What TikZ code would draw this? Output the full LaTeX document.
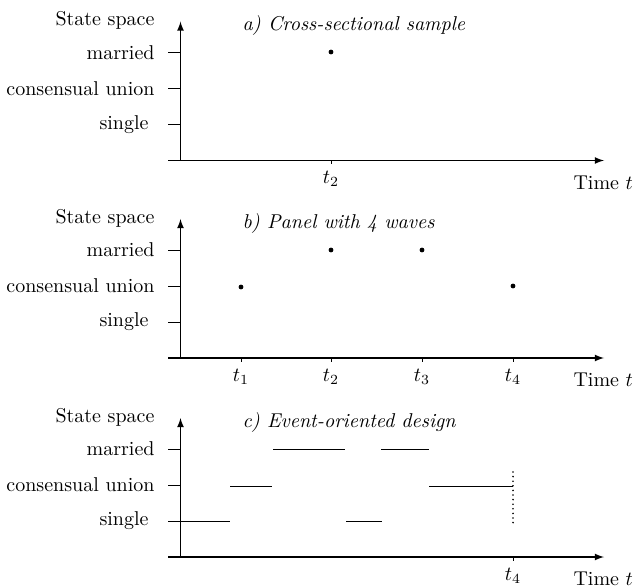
\documentclass[tikz,border=0pt]{standalone}
\usetikzlibrary{positioning}
\usepackage{amsmath}

\begin{document}
\begin{tikzpicture}[x=0.5pt,y=-0.5pt,>=latex,line width=0.5pt,
        axisline/.style={->,line width=0.6pt},
        statelab/.style={anchor=east,inner sep=0pt},
        spell/.style={line width=0.5pt},
        obsdot/.style={fill,circle,inner sep=0pt,minimum size=2.4pt}]
    \useasboundingbox (0,0) rectangle (635,587);
    % the three panels share axes and state space
    \foreach \y/\ttl/\p in {160.5/{a) Cross-sectional sample}/a,358/{b) Panel with 4 waves}/b,557/{c) Event-oriented design}/c} {
        \begin{scope}[shift={(0,\y)}]
            \node[statelab] (space-\p) at (155,-140) {State space};
            \node[statelab] (married-\p) at (155,-108) {married};
            \node[statelab] (union-\p) at (155,-72) {consensual union};
            \node[statelab] (single-\p) at (149,-36) {single};
            \draw[axisline] (180.5,0) -- (180.5,-139);
            \draw[axisline] (168,0) -- (604,0);
            \foreach \s in {-108,-72,-36}
                \draw (168,\s) -- (180.5,\s);
            \node[anchor=west,inner sep=0pt] (time-\p) at (573,22) {Time $t$};
            \node[anchor=west,inner sep=0pt] (title-\p) at (242,-135) {\textit{\ttl}};
        \end{scope}
    }
    % a) one observation at t2
    \draw (331,160.5) -- (331,164.5) node[below] (ta2) {$t_2$};
    \node[obsdot] (pa2) at (331,52) {};
    % b) four waves
    \draw (241,358) -- (241,362) node[below] (tb1) {$t_1$};
    \draw (331,358) -- (331,362) node[below] (tb2) {$t_2$};
    \draw (422,358) -- (422,362) node[below] (tb3) {$t_3$};
    \draw (513,358) -- (513,362) node[below] (tb4) {$t_4$};
    \node[obsdot] (pb1) at (241,287) {};
    \node[obsdot] (pb2) at (331,250) {};
    \node[obsdot] (pb3) at (422,250) {};
    \node[obsdot] (pb4) at (513,286) {};
    % c) continuous spells
    \draw (513,557) -- (513,561) node[below] (tc4) {$t_4$};
    \draw[spell] (170,521) -- (230,521);
    \draw[spell] (230,486) -- (272,486);
    \draw[spell] (273,449) -- (345,449);
    \draw[spell] (346,521) -- (382,521);
    \draw[spell] (381,449) -- (429,449);
    \draw[spell] (429,486) -- (513,486);
    \draw[line width=0.9pt,line cap=round,dash pattern=on 0pt off 2.3pt] (513,472) -- (513,527);
\end{tikzpicture}
\end{document}
